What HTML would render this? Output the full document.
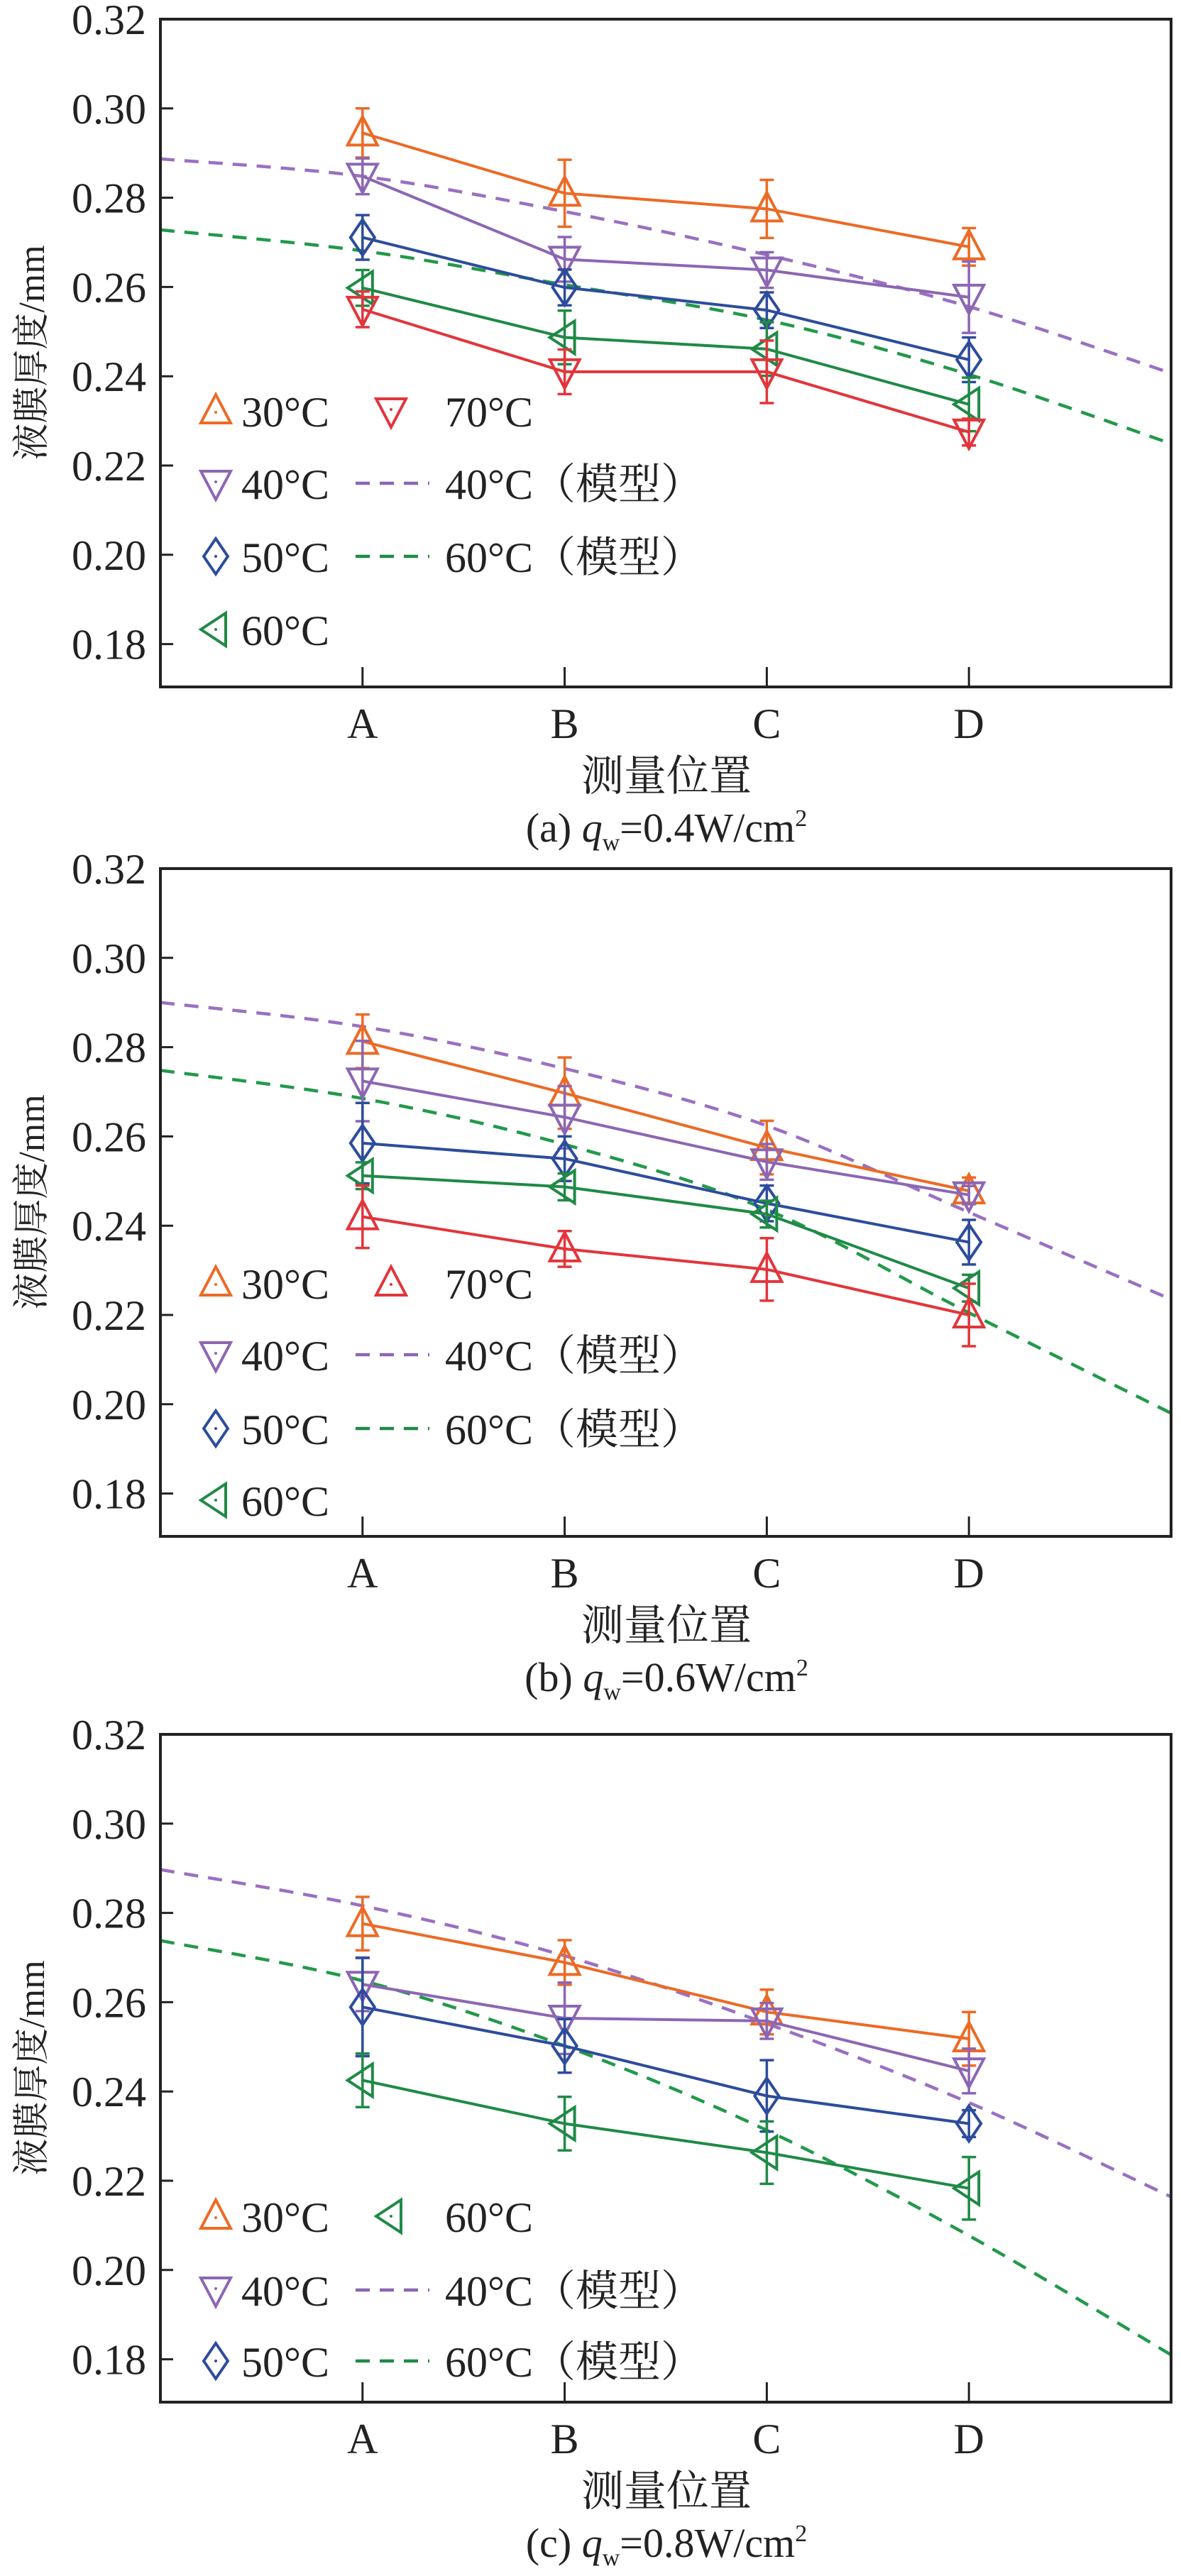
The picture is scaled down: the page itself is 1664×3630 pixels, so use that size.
<!DOCTYPE html>
<html><head><meta charset="utf-8">
<style>
html,body{margin:0;padding:0;background:#fff;}
svg{display:block;}
text{font-family:"Liberation Serif","Noto Serif CJK SC",serif;fill:#222;}
</style></head>
<body>
<svg id="chart" width="1664" height="3630" viewBox="0 0 1664 3630" xmlns="http://www.w3.org/2000/svg"></svg>
<script>
const categories = ["A","B","C","D"];
const yTicks = [0.18,0.20,0.22,0.24,0.26,0.28,0.30,0.32];
// Panel a (0.4 W/cm2)
const a30 = [0.2945,0.2810,0.2775,0.2690], a30e=[0.0055,0.0075,0.0065,0.0042];
const a40 = [0.2848,0.2662,0.2638,0.2577], a40e=[0.0040,0.0050,0.0040,0.0080];
const a50 = [0.2711,0.2599,0.2548,0.2437], a50e=[0.0050,0.0040,0.0040,0.0050];
const a60 = [0.2598,0.2487,0.2461,0.2337], a60e=[0.0040,0.0060,0.0060,0.0060];
const a70 = [0.2550,0.2410,0.2410,0.2275], a70e=[0.0040,0.0050,0.0070,0.0030];
const aM40 = [0.2887,0.2848,0.2769,0.2672,0.2556,0.2407];
const aM60 = [0.2728,0.2681,0.2605,0.2526,0.2404,0.2249];
// Panel b (0.6 W/cm2)
const b30 = [0.2813,0.2697,0.2575,0.2478], b30e=[0.0060,0.0080,0.0060,0.0030];
const b40 = [0.2724,0.2643,0.2543,0.2469], b40e=[0.0090,0.0070,0.0040,0.0020];
const b50 = [0.2585,0.2550,0.2450,0.2363], b50e=[0.0090,0.0050,0.0040,0.0050];
const b60 = [0.2512,0.2487,0.2426,0.2260], b60e=[0.0030,0.0030,0.0030,0.0030];
const b70 = [0.2420,0.2348,0.2302,0.2200], b70e=[0.0070,0.0040,0.0070,0.0070];
const bM40 = [0.2900,0.2846,0.2752,0.2624,0.2430,0.2235];
const bM60 = [0.2748,0.2685,0.2582,0.2436,0.2205,0.1980];
// Panel c (0.8 W/cm2)
const c30 = [0.2776,0.2689,0.2578,0.2518], c30e=[0.0060,0.0050,0.0050,0.0060];
const c40 = [0.2640,0.2564,0.2558,0.2446], c40e=[0.0060,0.0080,0.0040,0.0050];
const c50 = [0.2589,0.2502,0.2390,0.2328], c50e=[0.0110,0.0060,0.0080,0.0030];
const c60 = [0.2425,0.2328,0.2263,0.2183], c60e=[0.0060,0.0060,0.0070,0.0070];
const cM40 = [0.2897,0.2816,0.2704,0.2552,0.2375,0.2164];
const cM60 = [0.2738,0.2648,0.2502,0.2313,0.2077,0.1810];

const NS="http://www.w3.org/2000/svg";
const svg=document.getElementById('chart');
const COL={o:"#ec6a25",p:"#8c66b3",b:"#2d4c9c",g:"#1f8a46",r:"#e2353b"};
const L=226,R=1650,H=941,YMAX=0.32,STEP=125.8;
function mk(tag,attrs,parent){const e=document.createElementNS(NS,tag);for(const k in attrs)e.setAttribute(k,attrs[k]);(parent||svg).appendChild(e);return e;}
function xS(i){return L+i*(R-L)/5;}

function marker(g,type,x,y,c){
  const s=21;let d;
  if(type==='up')d=`M${x},${y-s-2} L${x+s},${y+s-4} L${x-s},${y+s-4}Z`;
  else if(type==='down')d=`M${x},${y+s+2} L${x+s},${y-s+4} L${x-s},${y-s+4}Z`;
  else if(type==='dia')d=`M${x},${y-s-4} L${x+s-4},${y} L${x},${y+s+4} L${x-s+4},${y}Z`;
  else d=`M${x-s},${y} L${x+s-7},${y-s-2} L${x+s-7},${y+s+2}Z`;
  const p=mk('path',{d:d,fill:'none',stroke:c,'stroke-width':4},g);
  mk('circle',{cx:x,cy:y+(type==='up'?2:type==='down'?-2:0),r:2,fill:c},g);
  return p;
}

function panel(key,top,series,models,legend,caption){
  const yS=v=>top+(YMAX-v)/0.02*STEP;
  const g=mk('g',{});
  
  
  yTicks.forEach(t=>{
    const y=yS(t);
    if(t<0.319) mk('line',{x1:L,x2:L+18,y1:y,y2:y,stroke:'#222','stroke-width':3},g);
    const tx=mk('text',{x:206,y:y+21,'text-anchor':'end','font-size':60},g);
    
    
    tx.textContent=t.toFixed(2);
  });
  categories.forEach((c,i)=>{
    const x=xS(i+1);
    mk('line',{x1:x,x2:x,y1:top+H,y2:top+H-28,stroke:'#222','stroke-width':3},g);
    const tx=mk('text',{x:x,y:top+H+72,'text-anchor':'middle','font-size':60},g);
    
    
    tx.textContent=c;
  });
  models.forEach(m=>{
    const pts=m.v.map((v,i)=>[xS(i),yS(v)]);
    let d=`M${pts[0][0]},${pts[0][1]}`;
    for(let i=0;i<pts.length-1;i++){
      const p0=pts[Math.max(0,i-1)],p1=pts[i],p2=pts[i+1],p3=pts[Math.min(pts.length-1,i+2)];
      d+=` C${p1[0]+(p2[0]-p0[0])/6},${p1[1]+(p2[1]-p0[1])/6} ${p2[0]-(p3[0]-p1[0])/6},${p2[1]-(p3[1]-p1[1])/6} ${p2[0]},${p2[1]}`;
    }
    const p=mk('path',{d:d,fill:'none',stroke:m.c,'stroke-width':4.5,'stroke-dasharray':'20 14'},g);
    
    
  });
  series.forEach(s=>{
    const sg=mk('g',{},g);
    
    
    const pts=s.v.map((v,i)=>xS(i+1)+','+yS(v)).join(' ');
    mk('polyline',{points:pts,fill:'none',stroke:s.c,'stroke-width':4},sg);
    s.v.forEach((v,i)=>{
      const x=xS(i+1),y1=yS(v+s.e[i]),y2=yS(v-s.e[i]);
      mk('line',{x1:x,x2:x,y1:y1,y2:y2,stroke:s.c,'stroke-width':3.5},sg);
      mk('line',{x1:x-10,x2:x+10,y1:y1,y2:y1,stroke:s.c,'stroke-width':3.5},sg);
      mk('line',{x1:x-10,x2:x+10,y1:y2,y2:y2,stroke:s.c,'stroke-width':3.5},sg);
      const m=marker(sg,s.m,x,yS(v),s.c);
      
      
    });
  });
  mk('rect',{x:L,y:top,width:R-L,height:H,fill:'none',stroke:'#222','stroke-width':4},g);
  const lg=mk('g',{},g);
  
  
  legend.forEach(e=>{
    const y=top+e.row;
    if(e.m) marker(lg,e.m,e.x,y,e.c);
    else mk('line',{x1:e.x-50,x2:e.x+54,y1:y,y2:y,stroke:e.c,'stroke-width':4.5,'stroke-dasharray':'20 14'},lg);
    const t=mk('text',{x:e.tx,y:y+22,'font-size':60},lg);
    
    
    t.textContent=e.t;
  });
  const yt=mk('text',{x:0,y:0,'font-size':52,'text-anchor':'middle',transform:`translate(62,${top+470}) rotate(-90)`},g);
  
  
  yt.textContent='液膜厚度/mm';
  const xt=mk('text',{x:939,y:top+H+146,'font-size':60,'text-anchor':'middle'},g);
  
  
  xt.textContent='测量位置';
  const ct=mk('text',{x:939,y:top+H+218,'font-size':58,'text-anchor':'middle'},g);
  
  
  ct.innerHTML=`(${key}) <tspan font-style="italic">q</tspan><tspan font-size="34" dy="12">w</tspan><tspan dy="-12">=${caption}W/cm</tspan><tspan font-size="34" dy="-22">2</tspan>`;
}

function leg4(r,m70){
  return [
    {row:r[0],m:'up',c:COL.o,x:304,tx:340,t:'30°C'},
    {row:r[0],m:m70.m,c:m70.c,x:551,tx:627,t:m70.t},
    {row:r[1],m:'down',c:COL.p,x:304,tx:340,t:'40°C'},
    {row:r[1],c:COL.p,x:551,tx:627,t:'40°C（模型）'},
    {row:r[2],m:'dia',c:COL.b,x:304,tx:340,t:'50°C'},
    {row:r[2],c:COL.g,x:551,tx:627,t:'60°C（模型）'}
  ];
}
let la=leg4([552,654,757],{m:'down',c:COL.r,t:'70°C'});la.push({row:860,m:'left',c:COL.g,x:304,tx:340,t:'60°C'});
panel('a',27,[
 {name:'series-30c',v:a30,e:a30e,c:COL.o,m:'up'},
 {name:'series-40c',v:a40,e:a40e,c:COL.p,m:'down'},
 {name:'series-50c',v:a50,e:a50e,c:COL.b,m:'dia'},
 {name:'series-60c',v:a60,e:a60e,c:COL.g,m:'left'},
 {name:'series-70c',v:a70,e:a70e,c:COL.r,m:'down'}],
 [{name:'model-40c',v:aM40,c:'#9a70c2'},{name:'model-60c',v:aM60,c:'#22994b'}],la,'0.4');
let lb=leg4([584,685,789],{m:'up',c:COL.r,t:'70°C'});lb.push({row:890,m:'left',c:COL.g,x:304,tx:340,t:'60°C'});
panel('b',1224,[
 {name:'series-30c',v:b30,e:b30e,c:COL.o,m:'up'},
 {name:'series-40c',v:b40,e:b40e,c:COL.p,m:'down'},
 {name:'series-50c',v:b50,e:b50e,c:COL.b,m:'dia'},
 {name:'series-60c',v:b60,e:b60e,c:COL.g,m:'left'},
 {name:'series-70c',v:b70,e:b70e,c:COL.r,m:'up'}],
 [{name:'model-40c',v:bM40,c:'#9a70c2'},{name:'model-60c',v:bM60,c:'#22994b'}],lb,'0.6');
let lc=leg4([679,783,883],{m:'left',c:COL.g,t:'60°C'});
panel('c',2444,[
 {name:'series-30c',v:c30,e:c30e,c:COL.o,m:'up'},
 {name:'series-40c',v:c40,e:c40e,c:COL.p,m:'down'},
 {name:'series-50c',v:c50,e:c50e,c:COL.b,m:'dia'},
 {name:'series-60c',v:c60,e:c60e,c:COL.g,m:'left'}],
 [{name:'model-40c',v:cM40,c:'#9a70c2'},{name:'model-60c',v:cM60,c:'#22994b'}],lc,'0.8');
</script>
</body></html>
